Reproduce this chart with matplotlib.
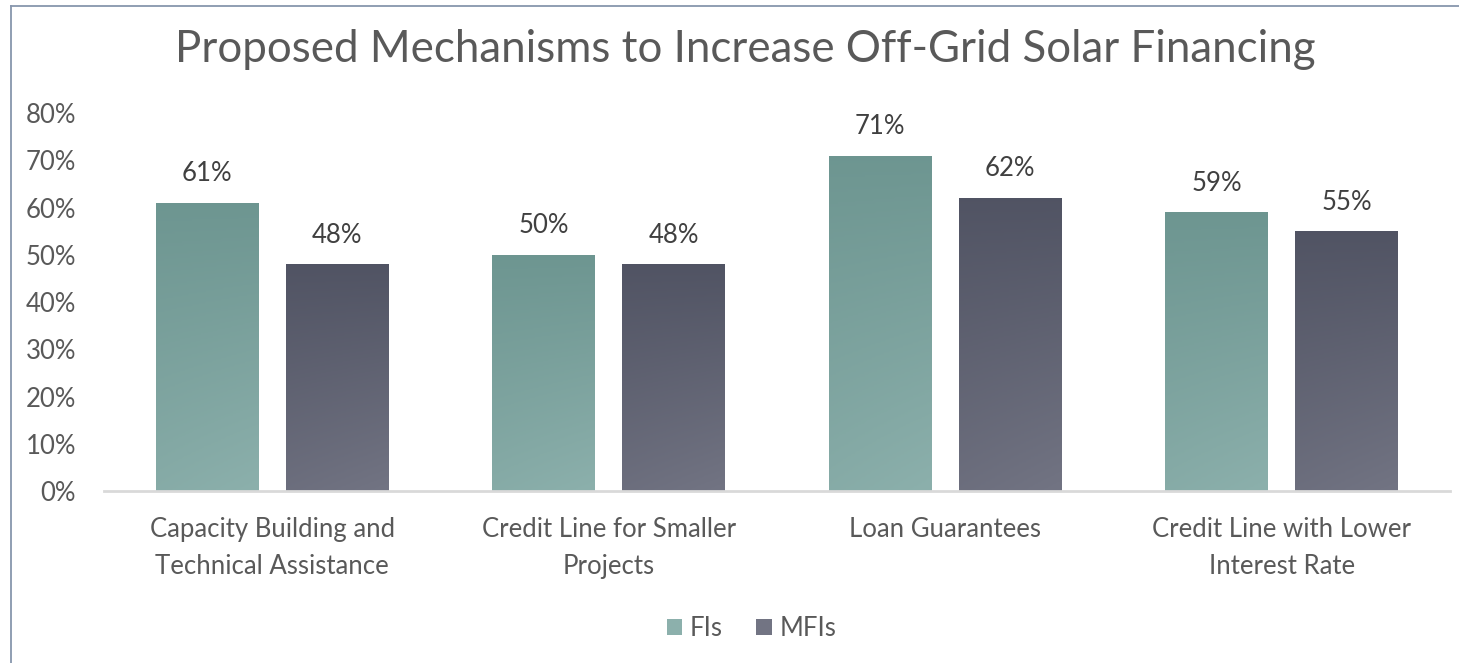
import numpy as np
import matplotlib
matplotlib.use("Agg")
import matplotlib.pyplot as plt
from matplotlib.patches import Patch
from matplotlib.colors import LinearSegmentedColormap
from matplotlib.lines import Line2D

plt.rcParams['font.family'] = ['Lato', 'DejaVu Sans']

categories = ["Capacity Building and\nTechnical Assistance",
              "Credit Line for Smaller\nProjects",
              "Loan Guarantees",
              "Credit Line with Lower\nInterest Rate"]
series = ["FIs", "MFIs"]
fis = [61, 50, 71, 59]
mfis = [48, 48, 62, 55]
yticks = [0, 10, 20, 30, 40, 50, 60, 70, 80]

text_col = "#595959"
# top / bottom colours of each series' gradient fill
grad = {"FIs": ("#68918c", "#8cb0ac"), "MFIs": ("#4b4e5e", "#727483")}

fig = plt.figure(figsize=(14.59, 6.63), dpi=100)
ax = fig.add_axes([0.0713, 0.2594, 0.9226, 0.570])

x = np.arange(len(categories))
w = 0.306
off = 0.193

def gradient_fill(bars, top, bottom):
    cmap = LinearSegmentedColormap.from_list("g", [bottom, top])
    yy = np.linspace(0, 1, 200)[:, None]
    xx = np.linspace(0, 1, 60)[None, :]
    # mostly vertical, lighter toward the lower right
    z = np.clip(yy * 0.85 + (1 - xx) * 0.15 * (1 - yy), 0, 1)
    for b in bars:
        x0, y0 = b.get_x(), b.get_y()
        im = ax.imshow(z, cmap=cmap, vmin=0, vmax=1, origin="lower",
                       extent=[x0, x0 + b.get_width(), y0, y0 + b.get_height()],
                       aspect="auto", zorder=3)
        im.set_clip_path(b)

for vals, name, dx in [(fis, "FIs", -off), (mfis, "MFIs", off)]:
    bars = ax.bar(x + dx, vals, w, color=grad[name][1], zorder=2, linewidth=0)
    gradient_fill(bars, *grad[name])
    for b, v in zip(bars, vals):
        ax.annotate(f"{v}%", (b.get_x() + b.get_width() / 2, v),
                    xytext=(0, 12), textcoords="offset points",
                    ha="center", va="bottom", fontsize=18.5, color="#404040")

ax.set_xlim(-0.5, 3.5)
ax.set_ylim(0, 80)
ax.set_yticks(yticks)
ax.set_yticklabels([f"{t}%" for t in yticks])
ax.set_xticks(x)
ax.set_xticklabels(categories, linespacing=1.58)
ax.tick_params(axis="y", length=0, pad=20, labelsize=18.5, labelcolor=text_col)
ax.tick_params(axis="x", length=0, pad=19, labelsize=18.5, labelcolor=text_col)
for s in ["top", "right", "left"]:
    ax.spines[s].set_visible(False)
ax.spines["bottom"].set_color("#d9d9d9")
ax.spines["bottom"].set_linewidth(2)
ax.spines["bottom"].set_zorder(4)

fig.text(0.511, 0.926, "Proposed Mechanisms to Increase Off-Grid Solar Financing",
         ha="center", va="center", fontsize=31.6, color=text_col)

handles = [Patch(facecolor=grad[s][1], edgecolor="none") for s in series]
fig.legend(handles, series, loc="center", bbox_to_anchor=(0.515, 0.052),
           ncol=2, frameon=False, fontsize=18.5, labelcolor=text_col,
           handlelength=0.6, handleheight=0.6, handletextpad=0.3,
           columnspacing=1.3)

# frame lines along the top and left edge
fig.add_artist(Line2D([0.0075, 0.0075], [0, 0.991], color="#8796ad", lw=1.3))
fig.add_artist(Line2D([0.0075, 1.0], [0.991, 0.991], color="#8796ad", lw=1.3))

fig.savefig("out.png", dpi=100)
